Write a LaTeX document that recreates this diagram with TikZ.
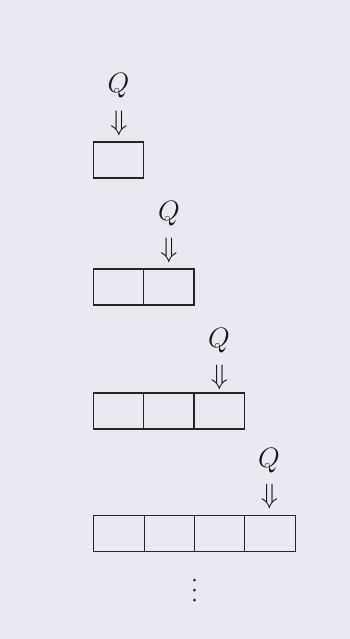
\documentclass[tikz,border=0pt]{standalone}
\begin{document}
\begin{tikzpicture}[x=1pt,y=-1pt,
  cell/.style={draw=black!85,line width=1.1pt,minimum width=50.3pt,minimum height=36pt,inner sep=0pt,outer sep=0pt},
  lbl/.style={font=\huge,scale=1.35,transform shape,inner sep=0pt,text=black!90},
  dot/.style={circle,fill=black!85,inner sep=0pt,minimum size=3pt}]
\fill[fill={rgb,255:red,233;green,234;blue,241}] (0,0) rectangle (350,639);
\useasboundingbox (0,0) rectangle (350,639);
% row 1
\node[cell] (a1) at (118.5,160) {};
\node[lbl] (q1) at (118.5,86) {$Q$};
\node[lbl] (d1) at (119,124) {$\Downarrow$};
% row 2
\node[cell] (b1) at (118.5,287) {};
\node[cell,anchor=west] (b2) at (b1.east) {};
\node[lbl] (q2) at (169,214) {$Q$};
\node[lbl] (d2) at (169,250) {$\Downarrow$};
% row 3
\node[cell] (c1) at (118.5,411) {};
\node[cell,anchor=west] (c2) at (c1.east) {};
\node[cell,anchor=west] (c3) at (c2.east) {};
\node[lbl] (q3) at (219,341) {$Q$};
\node[lbl] (d3) at (219.5,377) {$\Downarrow$};
% row 4
\node[cell] (e1) at (119,533.5) {};
\node[cell,anchor=west] (e2) at (e1.east) {};
\node[cell,anchor=west] (e3) at (e2.east) {};
\node[cell,anchor=west] (e4) at (e3.east) {};
\node[lbl] (q4) at (269,461) {$Q$};
\node[lbl] (d4) at (269.5,496) {$\Downarrow$};
% dots
\node[dot] (v1) at (194.5,580) {};
\node[dot] (v2) at (194.5,590) {};
\node[dot] (v3) at (194.5,600) {};
\end{tikzpicture}
\end{document}
